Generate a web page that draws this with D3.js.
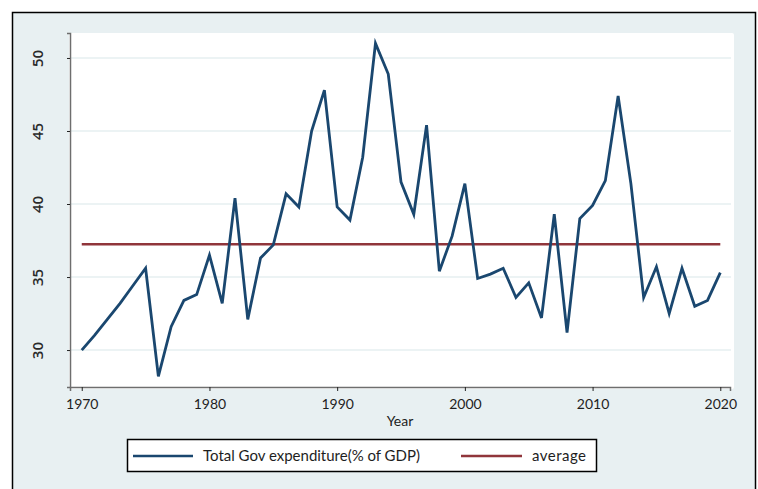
<!DOCTYPE html>
<html>
<head>
<meta charset="utf-8">
<script src="https://cdn.jsdelivr.net/npm/d3@7"></script>
<style>
  body { margin: 0; background: #fff; }
  svg text { font-family: Lato, "Open Sans", sans-serif; fill: #1e1e1e; }
</style>
</head>
<body>
<div id="chart"></div>
<script>
// data
var years = d3.range(1970, 2021);
var expenditure = [
    30.0, 31.0, 32.1, 33.2, 34.4, 35.6, 28.2, 31.6, 33.4, 33.8,
    36.5, 33.2, 40.4, 32.1, 36.3, 37.2, 40.7, 39.8, 45.0, 47.8,
    39.8, 38.9, 43.2, 51.0, 48.9, 41.5, 39.3, 45.4, 35.4, 37.8,
    41.4, 34.9, 35.2, 35.6, 33.6, 34.6, 32.2, 39.3, 31.2, 39.0,
    39.9, 41.6, 47.4, 41.4, 33.6, 35.7, 32.5, 35.6, 33.0, 33.4,
    35.3
];
var averageValue = 37.25;
var yTicks = [30, 35, 40, 45, 50];
var xTicks = [1970, 1980, 1990, 2000, 2010, 2020];
var legendLabels = ["Total Gov expenditure(% of GDP)", "average"];

var W = 758, H = 489;
var blue = "#1a476f", red = "#90353b", bg = "#e8f0f2";

var svg = d3.select("#chart").append("svg")
    .attr("width", W)
    .attr("height", H);

// outer graph region
svg.append("rect")
    .attr("x", 12.5).attr("y", 12.5)
    .attr("width", 743).attr("height", 490)
    .attr("fill", bg)
    .attr("stroke", "#000")
    .attr("stroke-width", 1.5);

// plot region
svg.append("rect")
    .attr("x", 69).attr("y", 33)
    .attr("width", 665).attr("height", 356)
    .attr("rx", 2)
    .attr("fill", "#fff");

var x = d3.scaleLinear().domain([1969.08, 2020.76]).range([70, 730]);
var y = d3.scaleLinear().domain([27.47, 51.71]).range([387, 33]);

// gridlines
svg.append("g").selectAll("line")
    .data(yTicks)
    .enter().append("line")
    .attr("x1", 70).attr("x2", 731)
    .attr("y1", function(d) { return y(d); })
    .attr("y2", function(d) { return y(d); })
    .attr("stroke", "#e6eff1")
    .attr("stroke-width", 1.5);

// y axis, labels turned on their side
var yAxis = svg.append("g")
    .attr("transform", "translate(70,0)")
    .call(d3.axisLeft(y).tickValues(yTicks).tickSize(3));
yAxis.select(".domain").attr("stroke", "#6e6e6e").attr("stroke-width", 1.5);
yAxis.selectAll(".tick line").attr("stroke", "#222");
yAxis.selectAll(".tick text").remove();
yAxis.selectAll(".tick").append("text")
    .attr("transform", "translate(-32,0) rotate(-90)")
    .attr("text-anchor", "middle")
    .attr("dy", "0.35em")
    .style("font-family", "'Open Sans', sans-serif")
    .style("font-weight", 600)
    .style("font-size", "15px")
    .style("fill", "#2a2a2a")
    .text(function(d) { return d; });

// x axis
var xAxis = svg.append("g")
    .attr("transform", "translate(0,387)")
    .call(d3.axisBottom(x).tickValues(xTicks).tickSize(4).tickPadding(8).tickFormat(d3.format("d")));
xAxis.select(".domain").attr("stroke", "#6e6e6e").attr("stroke-width", 1.5);
xAxis.selectAll(".tick line").attr("stroke", "#222");
xAxis.selectAll(".tick text")
    .style("font-size", "14px")
    .style("fill", "#1e1e1e")
    .style("font-family", "Lato, sans-serif");

svg.append("text")
    .attr("x", 400).attr("y", 426)
    .attr("text-anchor", "middle")
    .style("font-size", "14px")
    .text("Year");

// average line
svg.append("line")
    .attr("x1", x(1970)).attr("x2", x(2020))
    .attr("y1", y(averageValue)).attr("y2", y(averageValue))
    .attr("stroke", red)
    .attr("stroke-width", 2.5);

// expenditure line
var line = d3.line()
    .x(function(d, i) { return x(years[i]); })
    .y(function(d) { return y(d); });

svg.append("path")
    .datum(expenditure)
    .attr("d", line)
    .attr("fill", "none")
    .attr("stroke", blue)
    .attr("stroke-width", 2.8)
    .attr("stroke-linejoin", "miter");

// legend
var legend = svg.append("g");
legend.append("rect")
    .attr("x", 127.5).attr("y", 439.5)
    .attr("width", 469).attr("height", 32)
    .attr("fill", "#fff")
    .attr("stroke", "#000")
    .attr("stroke-width", 1.5);

var legendItems = [
    {color: blue, x0: 133, x1: 193, tx: 203, len: 217},
    {color: red, x0: 461, x1: 522, tx: 532, len: 54}
];
legendItems.forEach(function(d, k) {
    legend.append("line")
        .attr("x1", d.x0).attr("x2", d.x1)
        .attr("y1", 456).attr("y2", 456)
        .attr("stroke", d.color)
        .attr("stroke-width", 2.5);
    legend.append("text")
        .attr("x", d.tx).attr("y", 461)
        .attr("textLength", d.len)
        .style("font-size", "15px")
        .text(legendLabels[k]);
});
</script>
</body>
</html>
